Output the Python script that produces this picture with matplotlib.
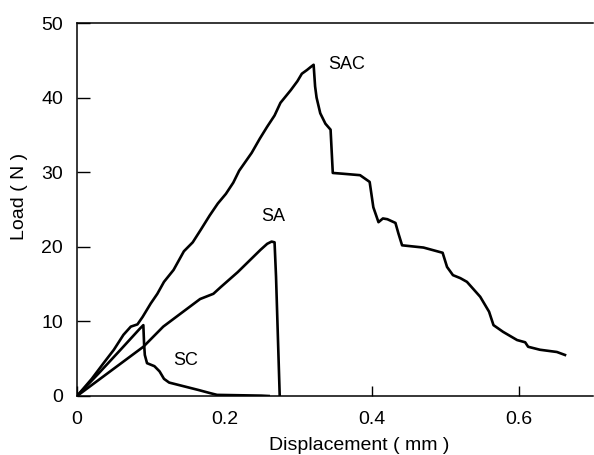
import matplotlib
matplotlib.use("Agg")
import matplotlib.pyplot as plt

plt.rcParams['font.family'] = ['Liberation Sans', 'DejaVu Sans']

# SAC curve (displacement mm, load N)
sac_x = [0, 0.02, 0.036, 0.050, 0.063, 0.073, 0.082, 0.089, 0.100, 0.109, 0.118, 0.131,
         0.145, 0.157, 0.168, 0.180, 0.191, 0.202, 0.212, 0.220, 0.237, 0.248, 0.258,
         0.268, 0.276, 0.290, 0.299,
         0.305, 0.312, 0.317, 0.321, 0.323, 0.325, 0.330, 0.337, 0.344, 0.347,
         0.360, 0.384, 0.397, 0.402, 0.409, 0.415, 0.421, 0.432, 0.436, 0.441,
         0.470, 0.496, 0.502, 0.510, 0.520, 0.529, 0.547, 0.559, 0.565, 0.578,
         0.597, 0.608, 0.612, 0.628, 0.651, 0.662]
sac_y = [0, 2.3, 4.4, 6.2, 8.2, 9.3, 9.6, 10.6, 12.4, 13.7, 15.3, 16.9,
         19.4, 20.6, 22.3, 24.2, 25.8, 27.1, 28.6, 30.2, 32.6, 34.5, 36.1,
         37.6, 39.3, 41.0, 42.2,
         43.2, 43.7, 44.1, 44.4, 41.5, 40.0, 37.9, 36.5, 35.7, 29.9,
         29.8, 29.6, 28.7, 25.3, 23.3, 23.8, 23.7, 23.2, 21.8, 20.2,
         19.9, 19.2, 17.3, 16.2, 15.8, 15.3, 13.3, 11.3, 9.5, 8.6,
         7.5, 7.2, 6.6, 6.2, 5.9, 5.5]

# SA curve
sa_x = [0, 0.03, 0.06, 0.09, 0.117, 0.144, 0.167, 0.185, 0.195, 0.218, 0.249,
        0.258, 0.264, 0.268, 0.270, 0.275]
sa_y = [0, 2.2, 4.4, 6.6, 9.3, 11.3, 13.0, 13.7, 14.6, 16.6, 19.6,
        20.4, 20.7, 20.6, 16.0, 0]

# SC curve
sc_x = [0, 0.03, 0.06, 0.085, 0.090, 0.091, 0.092, 0.095, 0.105, 0.112, 0.118,
        0.125, 0.145, 0.165, 0.18, 0.19, 0.22, 0.25, 0.26]
sc_y = [0, 3.1, 6.3, 9.0, 9.5, 7.0, 5.5, 4.4, 4.0, 3.3, 2.3,
        1.8, 1.3, 0.8, 0.4, 0.15, 0.1, 0.05, 0]

labels = ["SAC", "SA", "SC"]
label_pos = [(0.366, 44.5), (0.266, 24.1), (0.147, 4.8)]

x_ticks = [0, 0.2, 0.4, 0.6]
x_ticklabels = ["0", "0.2", "0.4", "0.6"]
y_ticks = [0, 10, 20, 30, 40, 50]

fig = plt.figure(figsize=(5.94, 4.55), dpi=100)
ax = fig.add_axes([77/594, 1 - 396/455, (593 - 77)/594, (396 - 23)/455])

lw = 1.9
ax.plot(sac_x, sac_y, color='black', lw=lw, solid_joinstyle='round')
ax.plot(sa_x, sa_y, color='black', lw=lw, solid_joinstyle='round')
ax.plot(sc_x, sc_y, color='black', lw=lw, solid_joinstyle='round')

for lab, (lx, ly) in zip(labels, label_pos):
    ax.text(lx, ly, lab, fontsize=13, ha='center', va='center')

ax.set_xlim(0, 0.7)
ax.set_ylim(0, 50)
ax.set_xticks(x_ticks)
ax.set_xticklabels(x_ticklabels)
ax.set_yticks(y_ticks)
ax.tick_params(axis='x', direction='in', length=7, width=1, labelsize=14, pad=11)
ax.tick_params(axis='y', direction='in', length=9, width=1, labelsize=14, pad=10)
ax.xaxis.get_major_ticks()[1].tick1line.set_visible(False)

ax.spines['right'].set_visible(False)
for s in ['left', 'bottom', 'top']:
    ax.spines[s].set_linewidth(1.1)

ax.set_xlabel("Displacement ( mm )", fontsize=14)
ax.xaxis.set_label_coords(0.547, -0.11)
ax.set_ylabel("Load ( N )", fontsize=14)
ax.yaxis.set_label_coords(-0.095, 0.536)

fig.savefig("out.png", dpi=100)
